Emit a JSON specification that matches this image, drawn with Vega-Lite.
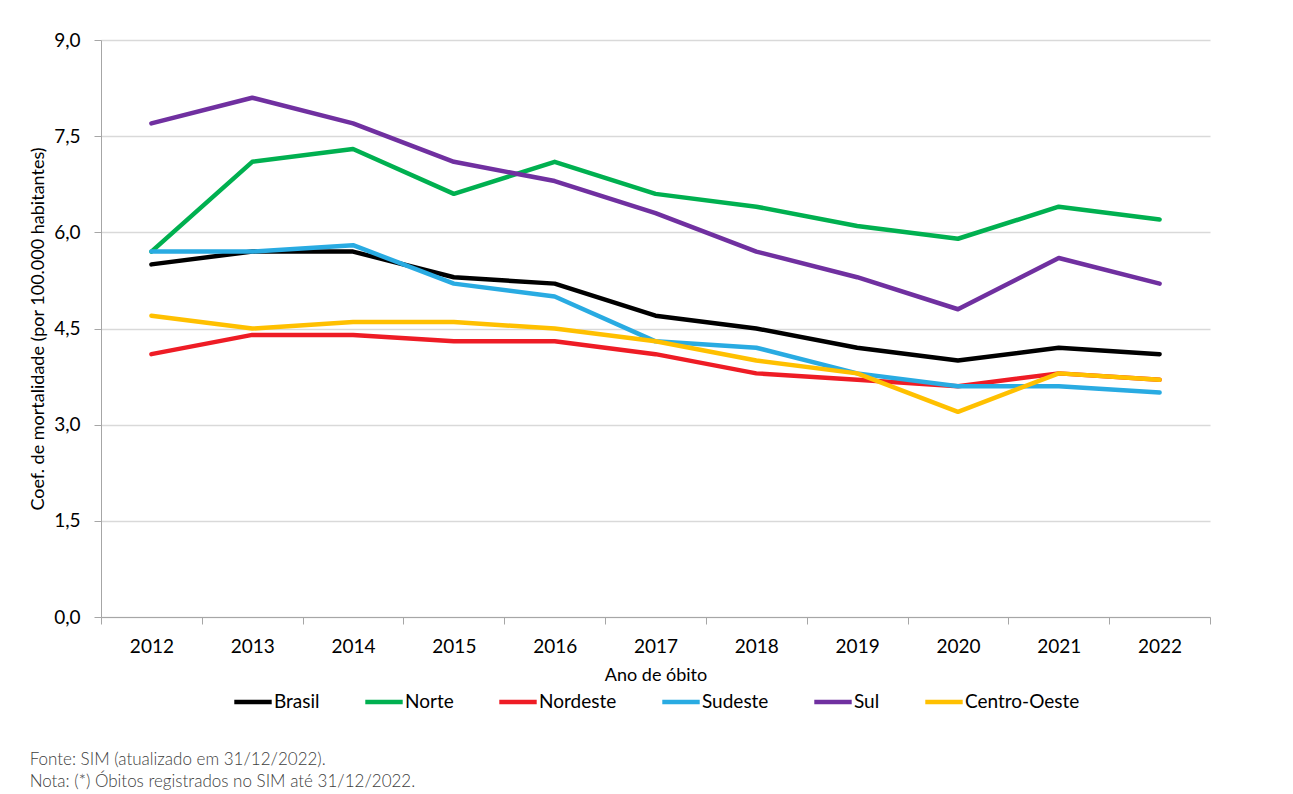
{
  "$schema": "https://vega.github.io/schema/vega-lite/v6.json",
  "width": 1109,
  "height": 577,
  "padding": {"left": 29, "top": 31, "right": 10, "bottom": 6},
  "background": "white",
  "config": {
    "font": "Lato",
    "view": {"stroke": null},
    "axis": {"labelFont": "Lato", "titleFont": "Lato", "labelColor": "#000000", "titleColor": "#000000", "titleFontWeight": "normal"},
    "legend": {"layout": {"bottom": {"anchor": "middle"}}}
  },
  "title": {
    "text": "Fonte: SIM (atualizado em 31/12/2022).",
    "subtitle": "Nota: (*) Óbitos registrados no SIM até 31/12/2022.",
    "orient": "bottom",
    "anchor": "start",
    "frame": "bounds",
    "font": "Lato",
    "fontSize": 17,
    "fontWeight": 300,
    "color": "#404040",
    "subtitleFont": "Lato",
    "subtitleFontSize": 17,
    "subtitleFontWeight": 300,
    "subtitleColor": "#404040",
    "subtitlePadding": 5,
    "offset": 40
  },
  "data": {
    "values": [
      {"ano": "2012", "regiao": "Brasil", "valor": 5.5},
      {"ano": "2013", "regiao": "Brasil", "valor": 5.7},
      {"ano": "2014", "regiao": "Brasil", "valor": 5.7},
      {"ano": "2015", "regiao": "Brasil", "valor": 5.3},
      {"ano": "2016", "regiao": "Brasil", "valor": 5.2},
      {"ano": "2017", "regiao": "Brasil", "valor": 4.7},
      {"ano": "2018", "regiao": "Brasil", "valor": 4.5},
      {"ano": "2019", "regiao": "Brasil", "valor": 4.2},
      {"ano": "2020", "regiao": "Brasil", "valor": 4.0},
      {"ano": "2021", "regiao": "Brasil", "valor": 4.2},
      {"ano": "2022", "regiao": "Brasil", "valor": 4.1},
      {"ano": "2012", "regiao": "Norte", "valor": 5.7},
      {"ano": "2013", "regiao": "Norte", "valor": 7.1},
      {"ano": "2014", "regiao": "Norte", "valor": 7.3},
      {"ano": "2015", "regiao": "Norte", "valor": 6.6},
      {"ano": "2016", "regiao": "Norte", "valor": 7.1},
      {"ano": "2017", "regiao": "Norte", "valor": 6.6},
      {"ano": "2018", "regiao": "Norte", "valor": 6.4},
      {"ano": "2019", "regiao": "Norte", "valor": 6.1},
      {"ano": "2020", "regiao": "Norte", "valor": 5.9},
      {"ano": "2021", "regiao": "Norte", "valor": 6.4},
      {"ano": "2022", "regiao": "Norte", "valor": 6.2},
      {"ano": "2012", "regiao": "Nordeste", "valor": 4.1},
      {"ano": "2013", "regiao": "Nordeste", "valor": 4.4},
      {"ano": "2014", "regiao": "Nordeste", "valor": 4.4},
      {"ano": "2015", "regiao": "Nordeste", "valor": 4.3},
      {"ano": "2016", "regiao": "Nordeste", "valor": 4.3},
      {"ano": "2017", "regiao": "Nordeste", "valor": 4.1},
      {"ano": "2018", "regiao": "Nordeste", "valor": 3.8},
      {"ano": "2019", "regiao": "Nordeste", "valor": 3.7},
      {"ano": "2020", "regiao": "Nordeste", "valor": 3.6},
      {"ano": "2021", "regiao": "Nordeste", "valor": 3.8},
      {"ano": "2022", "regiao": "Nordeste", "valor": 3.7},
      {"ano": "2012", "regiao": "Sudeste", "valor": 5.7},
      {"ano": "2013", "regiao": "Sudeste", "valor": 5.7},
      {"ano": "2014", "regiao": "Sudeste", "valor": 5.8},
      {"ano": "2015", "regiao": "Sudeste", "valor": 5.2},
      {"ano": "2016", "regiao": "Sudeste", "valor": 5.0},
      {"ano": "2017", "regiao": "Sudeste", "valor": 4.3},
      {"ano": "2018", "regiao": "Sudeste", "valor": 4.2},
      {"ano": "2019", "regiao": "Sudeste", "valor": 3.8},
      {"ano": "2020", "regiao": "Sudeste", "valor": 3.6},
      {"ano": "2021", "regiao": "Sudeste", "valor": 3.6},
      {"ano": "2022", "regiao": "Sudeste", "valor": 3.5},
      {"ano": "2012", "regiao": "Sul", "valor": 7.7},
      {"ano": "2013", "regiao": "Sul", "valor": 8.1},
      {"ano": "2014", "regiao": "Sul", "valor": 7.7},
      {"ano": "2015", "regiao": "Sul", "valor": 7.1},
      {"ano": "2016", "regiao": "Sul", "valor": 6.8},
      {"ano": "2017", "regiao": "Sul", "valor": 6.3},
      {"ano": "2018", "regiao": "Sul", "valor": 5.7},
      {"ano": "2019", "regiao": "Sul", "valor": 5.3},
      {"ano": "2020", "regiao": "Sul", "valor": 4.8},
      {"ano": "2021", "regiao": "Sul", "valor": 5.6},
      {"ano": "2022", "regiao": "Sul", "valor": 5.2},
      {"ano": "2012", "regiao": "Centro-Oeste", "valor": 4.7},
      {"ano": "2013", "regiao": "Centro-Oeste", "valor": 4.5},
      {"ano": "2014", "regiao": "Centro-Oeste", "valor": 4.6},
      {"ano": "2015", "regiao": "Centro-Oeste", "valor": 4.6},
      {"ano": "2016", "regiao": "Centro-Oeste", "valor": 4.5},
      {"ano": "2017", "regiao": "Centro-Oeste", "valor": 4.3},
      {"ano": "2018", "regiao": "Centro-Oeste", "valor": 4.0},
      {"ano": "2019", "regiao": "Centro-Oeste", "valor": 3.8},
      {"ano": "2020", "regiao": "Centro-Oeste", "valor": 3.2},
      {"ano": "2021", "regiao": "Centro-Oeste", "valor": 3.8},
      {"ano": "2022", "regiao": "Centro-Oeste", "valor": 3.7}
    ]
  },
  "mark": {"type": "line", "strokeWidth": 4.5, "strokeJoin": "round", "strokeCap": "round"},
  "encoding": {
    "x": {
      "field": "ano",
      "type": "ordinal",
      "scale": {"type": "band", "paddingInner": 0, "paddingOuter": 0},
      "axis": {
        "title": "Ano de óbito",
        "titleFontSize": 18,
        "titlePadding": 10,
        "labelFontSize": 19,
        "labelAngle": 0,
        "labelPadding": 13,
        "tickBand": "extent",
        "tickSize": 7,
        "tickColor": "#a6a6a6",
        "domainColor": "#a6a6a6",
        "grid": false
      }
    },
    "y": {
      "field": "valor",
      "type": "quantitative",
      "scale": {"domain": [0, 9], "nice": false},
      "axis": {
        "title": "Coef. de mortalidade (por 100.000 habitantes)",
        "titleFontSize": 18,
        "titlePadding": 6,
        "values": [0, 1.5, 3, 4.5, 6, 7.5, 9],
        "labelExpr": "replace(format(datum.value, '.1f'), '.', ',')",
        "labelFontSize": 19,
        "labelPadding": 14,
        "tickSize": 7,
        "tickColor": "#a6a6a6",
        "domainColor": "#a6a6a6",
        "gridColor": "#d9d9d9",
        "gridWidth": 1.3
      }
    },
    "color": {
      "field": "regiao",
      "type": "nominal",
      "scale": {
        "domain": ["Brasil", "Norte", "Nordeste", "Sudeste", "Sul", "Centro-Oeste"],
        "range": ["#000000", "#00B050", "#EE1C25", "#29ABE2", "#7030A0", "#FFC000"]
      },
      "legend": {
        "title": null,
        "orient": "bottom",
        "direction": "horizontal",
        "symbolType": "stroke",
        "symbolStrokeWidth": 4.5,
        "symbolSize": 1400,
        "labelFontSize": 19,
        "labelFont": "Lato",
        "labelColor": "#000000",
        "labelOffset": 0,
        "columnPadding": 36,
        "offset": -3
      }
    },
    "order": {"field": "ano"}
  }
}
